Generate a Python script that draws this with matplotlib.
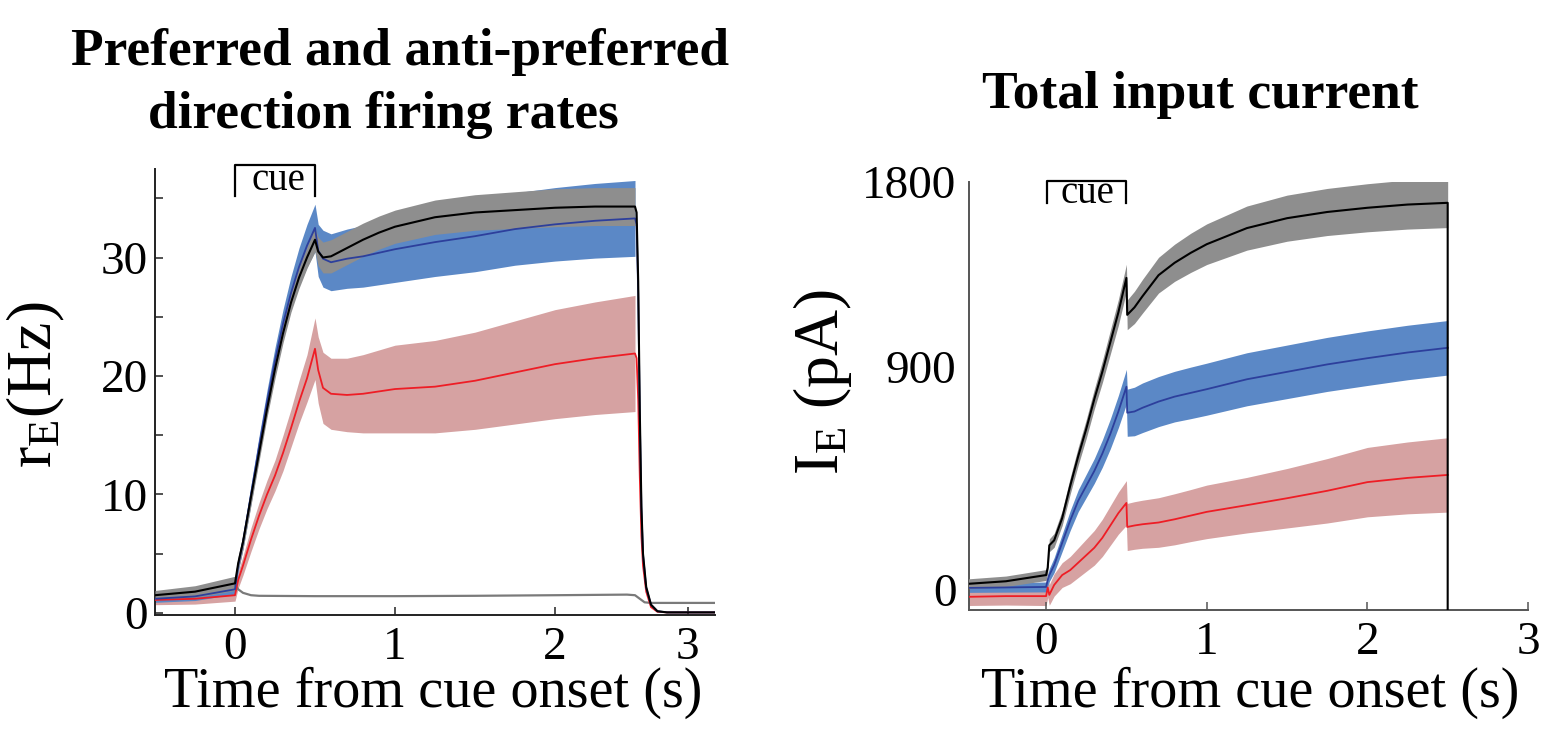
import numpy as np
import matplotlib
matplotlib.use('Agg')
import matplotlib.pyplot as plt
from matplotlib.ticker import FixedLocator

plt.rcParams['font.family'] = ['Liberation Serif', 'DejaVu Serif']
plt.rcParams['mathtext.fontset'] = 'custom'
plt.rcParams['mathtext.rm'] = 'Liberation Serif'
plt.rcParams['mathtext.it'] = 'Liberation Serif:italic'

# ---------------- data: left panel (firing rates, Hz) ----------------
t_left = [-0.5, -0.25, 0.0, 0.02, 0.05, 0.1, 0.15, 0.2, 0.25, 0.3, 0.35, 0.4, 0.45,
          0.5, 0.52, 0.55, 0.6, 0.7, 0.8, 0.9, 1.0, 1.25, 1.5, 1.75, 2.0, 2.25, 2.5]
pref_rate = [1.5, 1.8, 2.5, 4.2, 6.0, 9.8, 13.5, 17.2, 20.6, 23.6, 26.2, 28.3, 30.0,
             31.5, 30.5, 30.0, 30.1, 30.8, 31.5, 32.1, 32.6, 33.4, 33.8, 34.0, 34.2, 34.3, 34.3]
pref_rate_sd = [0.4, 0.5, 0.6, 0.6, 0.6, 0.7, 0.7, 0.7, 0.8, 0.8, 0.8, 0.9, 0.9,
                1.0, 1.2, 1.3, 1.4, 1.4, 1.4, 1.4, 1.4, 1.45, 1.5, 1.55, 1.6, 1.6, 1.6]
mid_rate = [1.2, 1.4, 2.0, 4.0, 6.0, 10.0, 14.0, 17.8, 21.3, 24.4, 27.0, 29.2, 31.0,
            32.5, 30.6, 29.9, 29.6, 29.9, 30.1, 30.4, 30.7, 31.3, 31.8, 32.4, 32.8, 33.1, 33.3]
mid_rate_sd = [0.3, 0.35, 0.4, 0.5, 0.6, 0.8, 0.9, 1.0, 1.1, 1.2, 1.4, 1.6, 1.8,
               2.0, 2.2, 2.4, 2.4, 2.5, 2.6, 2.7, 2.8, 2.9, 3.0, 3.05, 3.1, 3.15, 3.2]
anti_rate = [1.1, 1.2, 1.5, 2.8, 4.0, 6.2, 8.2, 10.0, 11.6, 13.5, 15.6, 17.8, 19.8,
             22.3, 20.5, 19.0, 18.5, 18.4, 18.5, 18.7, 18.9, 19.1, 19.6, 20.3, 21.0, 21.5, 21.9]
anti_rate_sd = [0.4, 0.45, 0.5, 0.7, 0.8, 1.0, 1.1, 1.2, 1.3, 1.5, 1.6, 1.8, 2.0,
                2.6, 2.8, 3.0, 3.0, 3.1, 3.3, 3.5, 3.7, 3.9, 4.1, 4.35, 4.6, 4.75, 4.9]

t_tail = [2.5, 2.51, 2.52, 2.53, 2.54, 2.55, 2.57, 2.6, 2.64, 2.7, 3.0]
pref_tail = [34.3, 33.8, 28.0, 17.0, 9.0, 5.0, 2.2, 0.7, 0.15, 0.05, 0.05]
mid_tail = [33.3, 32.8, 27.0, 16.5, 8.8, 4.9, 2.1, 0.7, 0.15, 0.05, 0.05]
anti_tail = [21.9, 21.5, 18.0, 11.5, 6.5, 4.0, 1.8, 0.5, 0.1, 0.05, 0.05]

t_other = [0.0, 0.02, 0.05, 0.1, 0.15, 0.5, 1.0, 1.5, 2.0, 2.45, 2.5, 2.53, 2.56, 2.6, 3.0]
other_rate = [2.4, 2.0, 1.7, 1.5, 1.45, 1.42, 1.42, 1.45, 1.5, 1.55, 1.5, 1.2, 0.9, 0.85, 0.85]

# ---------------- data: right panel (input current, pA) ----------------
t_right = [-0.5, -0.25, 0.0, 0.01, 0.02, 0.05, 0.1, 0.15, 0.2, 0.25, 0.3, 0.35, 0.4, 0.45,
           0.5, 0.505, 0.55, 0.6, 0.7, 0.8, 0.9, 1.0, 1.25, 1.5, 1.75, 2.0, 2.25, 2.5]
pref_cur = [24, 35, 60, 90, 180, 200, 290, 420, 540, 650, 770, 880, 1000, 1120,
            1259, 1110, 1140, 1185, 1270, 1320, 1360, 1395, 1460, 1500, 1525, 1542, 1555, 1562]
pref_cur_sd = [20, 21, 22, 24, 26, 28, 30, 33, 36, 38, 40, 44, 48, 52,
               55, 60, 65, 68, 72, 75, 79, 82, 89, 93, 95, 97, 99, 100]
mid_cur = [8, 10, 12, 40, 60, 100, 190, 280, 360, 420, 480, 550, 630, 720,
           820, 715, 720, 735, 760, 780, 795, 810, 850, 880, 910, 935, 958, 977]
mid_cur_sd = [18, 19, 20, 24, 26, 30, 35, 40, 44, 47, 50, 55, 60, 65,
              70, 95, 98, 100, 101, 102, 104, 105, 107, 108, 109, 110, 110, 110]
anti_cur = [-28, -25, -25, 10, -20, 20, 60, 80, 110, 140, 170, 210, 260, 310,
            351, 254, 260, 265, 272, 285, 300, 315, 342, 370, 400, 435, 452, 464]
anti_cur_sd = [35, 36, 38, 40, 42, 45, 50, 55, 60, 65, 70, 75, 80, 85,
               90, 95, 96, 97, 100, 103, 105, 108, 112, 120, 130, 140, 145, 150]
t_cur_end = [2.5, 2.5]
pref_cur_end = [1562, -500]

# ---------------- styling ----------------
C_GRAY_BAND = '#8e8e8e'
C_BLUE_BAND = '#5b88c6'
C_PINK_BAND = '#d6a2a2'
C_BLUE_LINE = '#2d3f9c'
C_RED_LINE = '#ee1d25'
C_OTHER = '#7a7a7a'

W, H = 1560, 736
fig = plt.figure(figsize=(W / 100, H / 100), dpi=100)


def axrect(x0, y0, x1, y1):
    return [x0 / W, 1 - y1 / H, (x1 - x0) / W, (y1 - y0) / H]


def band(ax, t, m, s, color, z):
    m = np.asarray(m, float)
    s = np.asarray(s, float)
    ax.fill_between(t, m - s, m + s, color=color, lw=0, zorder=z)


# ---------- left panel ----------
ax1 = fig.add_axes(axrect(155, 169, 715, 615))
band(ax1, t_left, anti_rate, anti_rate_sd, C_PINK_BAND, 1)
band(ax1, t_left, mid_rate, mid_rate_sd, C_BLUE_BAND, 2)
band(ax1, t_left, pref_rate, pref_rate_sd, C_GRAY_BAND, 3)
ax1.plot(t_other, other_rate, color=C_OTHER, lw=1.6, zorder=4)
ax1.plot(t_left + t_tail[1:], anti_rate + anti_tail[1:], color=C_RED_LINE, lw=1.3, zorder=5)
ax1.plot(t_left + t_tail[1:], mid_rate + mid_tail[1:], color=C_BLUE_LINE, lw=1.3, zorder=6)
ax1.plot(t_left + t_tail[1:], pref_rate + pref_tail[1:], color='black', lw=1.5, zorder=7)

ax1.set_xlim(-0.5, 3.0)
ax1.set_ylim(-0.17, 37.47)
ax1.set_xticks([0, 1, 2, 2.83], ['0', '1', '2', '3'])
ax1.set_yticks([0, 10, 20, 30])
ax1.yaxis.set_minor_locator(FixedLocator([5, 15, 25, 35]))

# cue bracket
ax1.plot([0, 0, 0.5, 0.5], [35.2, 37.8, 37.8, 35.2], color='black', lw=1.6, clip_on=False)
ax1.text(0.27, 36.5, 'cue', ha='center', va='center', fontsize=28)

# ---------- right panel ----------
ax2 = fig.add_axes(axrect(969, 182, 1528, 610))
band(ax2, t_right, anti_cur, anti_cur_sd, C_PINK_BAND, 1)
band(ax2, t_right, mid_cur, mid_cur_sd, C_BLUE_BAND, 2)
band(ax2, t_right, pref_cur, pref_cur_sd, C_GRAY_BAND, 3)
ax2.plot(t_right, anti_cur, color=C_RED_LINE, lw=1.3, zorder=5)
ax2.plot(t_right, mid_cur, color=C_BLUE_LINE, lw=1.3, zorder=6)
ax2.plot(t_right + t_cur_end, pref_cur + pref_cur_end, color='black', lw=1.5, zorder=7)

ax2.set_xlim(-0.48, 3.0)
ax2.set_ylim(-81, 1646)
ax2.set_xticks([0, 1, 2, 3])
ax2.set_yticks([0, 900, 1646], ['0', '900', '1800'])
ax2.yaxis.set_minor_locator(FixedLocator([900]))

ax2.plot([0.005, 0.005, 0.5, 0.5], [1562, 1650, 1650, 1562], color='black', lw=1.6, clip_on=False)
ax2.text(0.255, 1600, 'cue', ha='center', va='center', fontsize=28)

for ax, sc in ((ax1, '#222222'), (ax2, '#555555')):
    for s in ('top', 'right'):
        ax.spines[s].set_visible(False)
    for s in ('left', 'bottom'):
        ax.spines[s].set_color(sc)
        ax.spines[s].set_linewidth(1.4)
    ax.tick_params(axis='both', which='both', direction='in', length=6, width=1.1,
                   colors=sc, labelcolor='black', labelsize=34)
    ax.tick_params(axis='x', pad=8)

ax1.tick_params(axis='y', pad=5)
ax2.tick_params(axis='y', which='major', length=0, pad=9)
ax2.tick_params(axis='y', which='minor', length=6)

# ---------- texts ----------
def ft(px, py, s, **kw):
    fig.text(px / W, 1 - py / H, s, **kw)

ft(400, 65, 'Preferred and anti-preferred', ha='center', va='baseline',
   fontsize=38.5, fontweight='bold')
ft(383, 128, 'direction firing rates', ha='center', va='baseline',
   fontsize=38.5, fontweight='bold')
ft(1200, 108, 'Total input current', ha='center', va='baseline',
   fontsize=38.5, fontweight='bold')

ft(433, 707, 'Time from cue onset (s)', ha='center', va='baseline', fontsize=40.5)
ft(1250, 707, 'Time from cue onset (s)', ha='center', va='baseline', fontsize=40.5)

ft(36, 385, r'r$_{\mathrm{E}}$(Hz)', ha='center', va='center', rotation=90, fontsize=46)
ft(822, 382, r'I$_{\mathrm{E}}$ (pA)', ha='center', va='center', rotation=90, fontsize=46)

fig.savefig('out.png', dpi=100)
